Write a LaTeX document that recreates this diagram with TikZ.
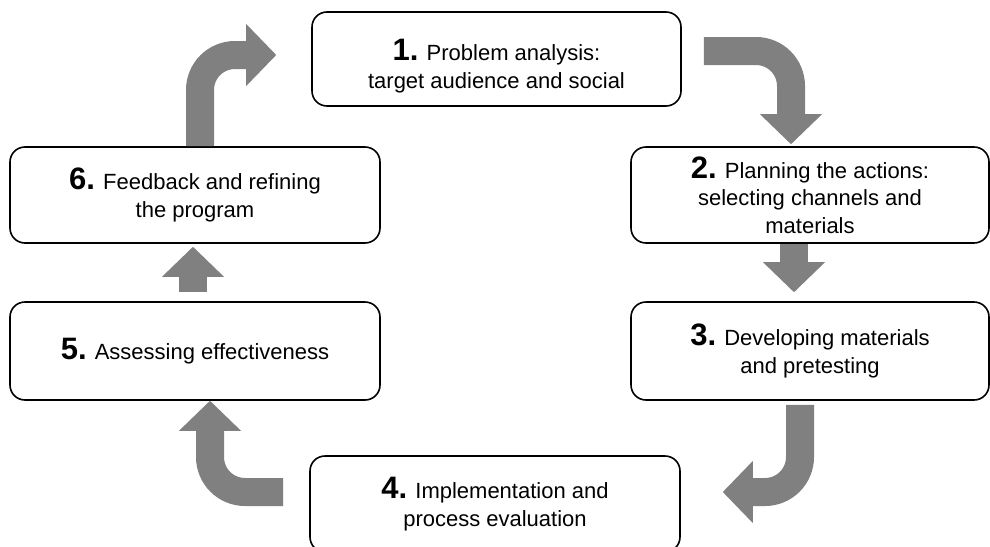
\documentclass[tikz,border=0pt]{standalone}
\usepackage{fontspec}
\setmainfont{Liberation Sans}
\usetikzlibrary{arrows.meta}
\definecolor{flowgray}{RGB}{128,128,128}
\newcommand{\stagenum}[1]{{\fontsize{31}{27}\selectfont\bfseries #1}}

\begin{document}
\begin{tikzpicture}[x=1pt,y=-1pt]

%
% Styles
%
\tikzstyle{stage} = [rectangle,draw=black,line width=1.6pt,rounded corners=15pt,
  align=center,inner sep=0pt,font=\fontsize{22}{27.5}\selectfont]
\tikzstyle{flow} = [draw=flowgray,line width=28pt,rounded corners=35pt,
  -{Triangle[length=30pt,width=62pt,line width=0pt]},flowgray]

\useasboundingbox (0,0) rectangle (990,546);

\node[stage,minimum width=369pt,minimum height=94pt] (p1) at (496.5, 59)
  {\rule{0pt}{36pt}\stagenum{1.} Problem analysis:\\ target audience and social};
\node[stage,minimum width=358pt,minimum height=96pt] (p2) at (810, 195)
  {\stagenum{2.} Planning the actions:\\ selecting channels and\\ materials};
\node[stage,minimum width=358pt,minimum height=98pt] (p3) at (810, 351)
  {\stagenum{3.} Developing materials\\ and pretesting};
\node[stage,minimum width=370pt,minimum height=96pt] (p4) at (495, 504)
  {\stagenum{4.} Implementation and\\ process evaluation};
\node[stage,minimum width=370pt,minimum height=98pt] (p5) at (195, 351)
  {\stagenum{5.} Assessing effectiveness};
\node[stage,minimum width=370pt,minimum height=96pt] (p6) at (195, 195)
  {\stagenum{6.} Feedback and refining\\ the program};

\draw[flow] ([xshift=22pt,yshift=8pt]p1.east) -| ([xshift=-19pt,yshift=2pt]p2.north);
\draw[flow,rounded corners=0pt] ([xshift=-16pt]p2.south) -- ([xshift=-16pt,yshift=9pt]p3.north);
\draw[flow] ([xshift=-10pt,yshift=-4pt]p3.south) |- ([xshift=42pt,yshift=12pt]p4.east);
\draw[flow] ([xshift=-26pt,yshift=12pt]p4.west) -| ([xshift=15pt]p5.south);
\draw[flow,rounded corners=0pt] ([xshift=-2pt,yshift=9pt]p5.north) -- ([xshift=-2pt,yshift=-3pt]p6.south);
\draw[flow] ([xshift=5pt]p6.north) |- ([xshift=-35pt,yshift=4pt]p1.west);

\end{tikzpicture}
\end{document}
